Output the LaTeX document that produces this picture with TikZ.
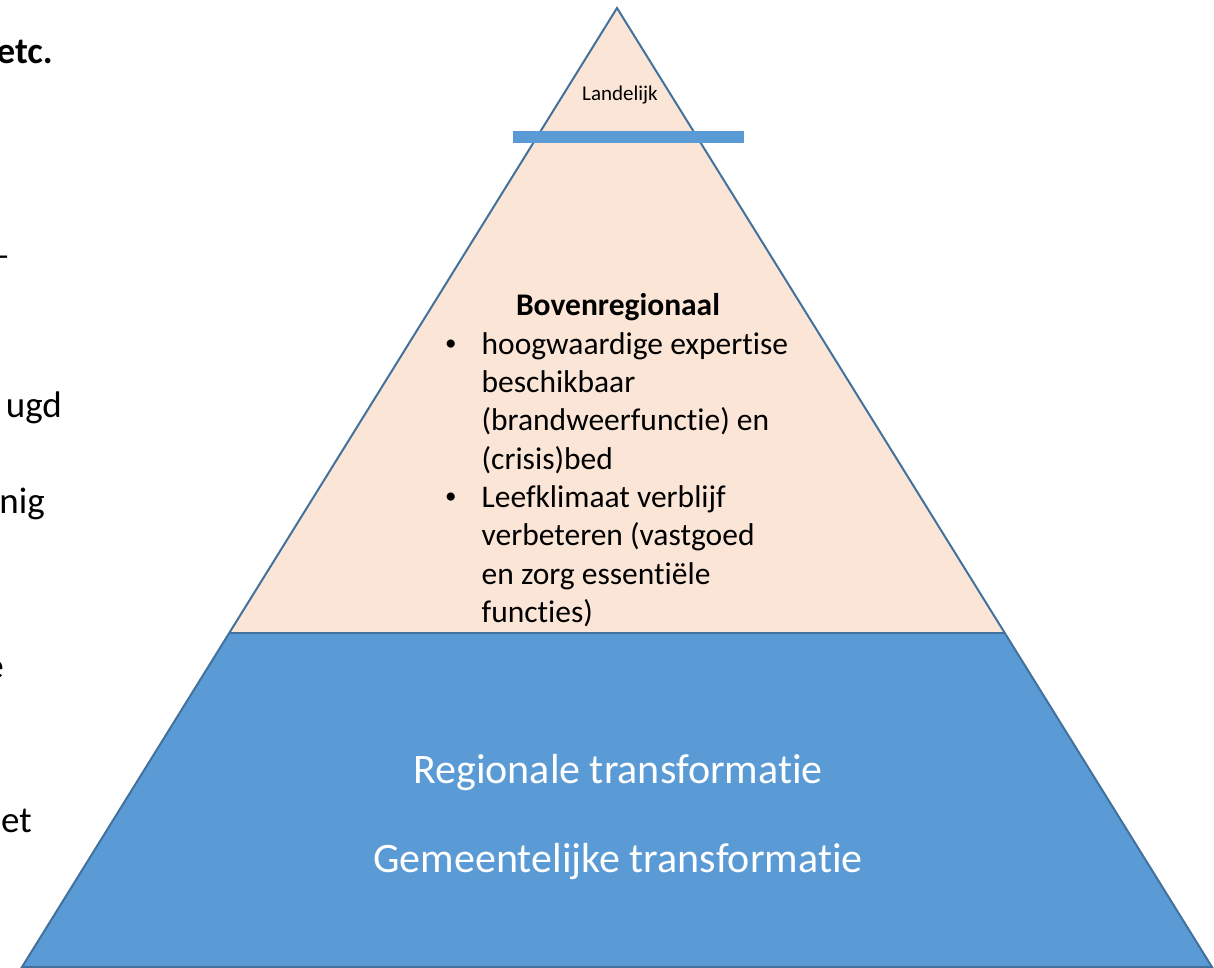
\documentclass[tikz,border=0pt]{standalone}
\usepackage{fontspec}
\setmainfont{Carlito}[Ligatures={NoCommon,NoContextual}]
\definecolor{peach1}{RGB}{251, 229, 214}
\definecolor{blue1}{RGB}{91, 155, 213}
\definecolor{edge1}{RGB}{65, 113, 156}
\usetikzlibrary{calc, positioning}
\newcommand{\punt}{\raisebox{3.5pt}{\fontsize{23}{23}\selectfont\textbullet}}

\tikzset{
  layer/.style={draw=edge1, line width=2pt, line join=miter},
  sidetext/.style={anchor=base east, inner sep=0pt, font=\fontsize{37}{44}\selectfont},
  whitetext/.style={anchor=base, inner sep=0pt, text=white, font=\fontsize{42}{50}\selectfont}
}

\begin{document}
\begin{tikzpicture}[x=1pt, y=-1pt]
  \useasboundingbox (0,0) rectangle (1214,967);
  \clip (0,0) rectangle (1214,967);

  % corners of the pyramid
  \coordinate (apex) at (617,8);
  \coordinate (bl) at (22,967);
  \coordinate (br) at (1212,967);
  \coordinate (ml) at ($(apex)!0.6517!(bl)$);
  \coordinate (mr) at ($(apex)!0.6517!(br)$);

  % layers
  \fill[peach1] (apex) -- (ml) -- (mr) -- cycle;
  \fill[blue1] (ml) -- (bl) -- (br) -- (mr) -- cycle;
  \draw[layer] (apex) -- (bl) -- (br) -- cycle;
  \draw[layer] (ml) -- (mr);
  \fill[blue1] (513,131) rectangle (744,143);

  % text in the top
  \node[anchor=base, inner sep=0pt, font=\fontsize{21}{25}\selectfont] (landelijk) at (620,100) {Landelijk};
  \node[anchor=base, inner sep=0pt, font=\fontsize{31.5}{38.3}\selectfont\bfseries] (boven) at (618,315) {Bovenregionaal};
  \node[anchor=north west, inner sep=0pt, font=\fontsize{31.5}{38.3}\selectfont] (lijst) at (445,327.2) {%
    \begin{tabular}{@{}l@{\hspace{25pt}}l@{}}
      \punt & hoogwaardige expertise\\
            & beschikbaar\\
            & (brandweerfunctie) en\\
            & (crisis)bed\\
      \punt & Leefklimaat verblijf\\
            & verbeteren (vastgoed\\
            & en zorg essentiële\\
            & functies)
    \end{tabular}};

  % text in the base
  \node[whitetext] (regio) at (618,783) {Regionale transformatie};
  \node[whitetext] (gemeente) at (618,872) {Gemeentelijke transformatie};

  % text running in from the left
  \node[sidetext, font=\fontsize{37}{44}\selectfont\bfseries] (etc) at (53,63) {etc.};
  \node[sidetext] (streep) at (10,267) {–};
  \node[sidetext] (ugd) at (62,417) {ugd};
  \node[sidetext] (nig) at (45,513) {nig};
  \node[sidetext] (e) at (4,678) {e};
  \node[sidetext] (et) at (32,832) {et};
\end{tikzpicture}
\end{document}
